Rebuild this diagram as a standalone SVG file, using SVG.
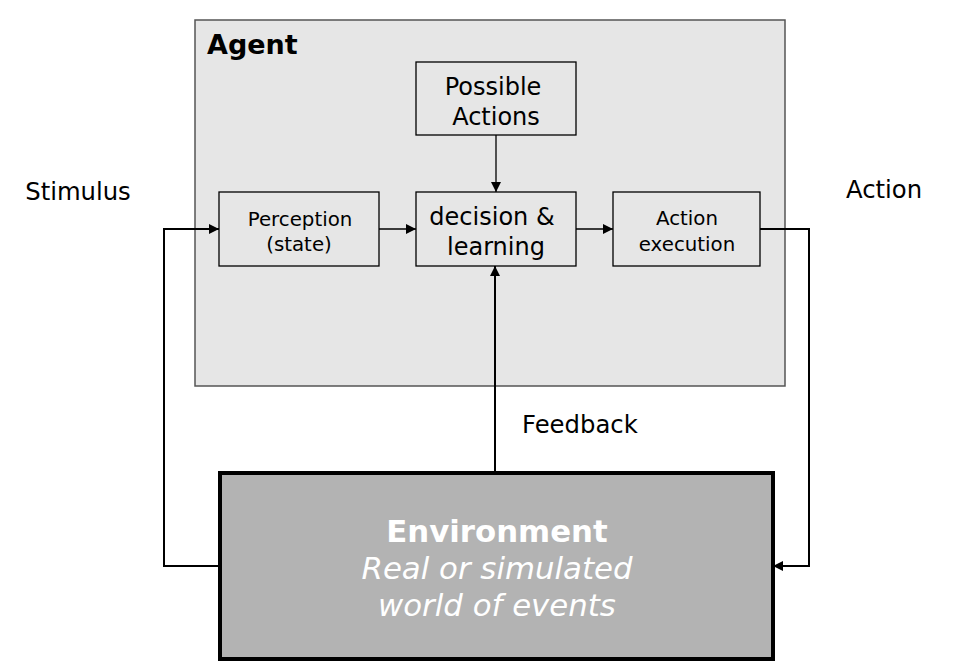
<svg xmlns="http://www.w3.org/2000/svg" width="955" height="670" viewBox="0 0 955 670">
<defs>
<style>
text{font-family:"DejaVu Sans","Liberation Sans",sans-serif;fill:#000}
.box{fill:#e6e6e6;stroke:#000;stroke-width:1.3}
.c{text-anchor:middle}
.con{fill:none;stroke:#000;stroke-width:2}
.thin{fill:none;stroke:#000;stroke-width:1.3}
</style>
<marker id="ah" viewBox="0 0 10 10" refX="10" refY="5" markerWidth="10" markerHeight="10" markerUnits="userSpaceOnUse" orient="auto"><path d="M0,0L10,5L0,10z" fill="#000"/></marker>
</defs>
<rect width="955" height="670" fill="#fff"/>
<g id="agent">
<rect x="195" y="20" width="590" height="366" fill="#e6e6e6" stroke="#555" stroke-width="1.5"/>
<text x="207" y="54" font-size="27" font-weight="bold">Agent</text>
</g>
<g id="possible-actions">
<rect class="box" x="416" y="62" width="160" height="73"/>
<text class="c" x="493" y="95" font-size="24">Possible</text>
<text class="c" x="496" y="125" font-size="24">Actions</text>
</g>
<g id="perception">
<rect class="box" x="219" y="192" width="160" height="74"/>
<text class="c" x="300" y="226" font-size="19.8">Perception</text>
<text class="c" x="299" y="251" font-size="19.8">(state)</text>
</g>
<g id="decision">
<rect class="box" x="416" y="192" width="160" height="74"/>
<text class="c" x="492" y="225" font-size="24">decision &amp;</text>
<text class="c" x="496" y="255" font-size="24">learning</text>
</g>
<g id="action-execution">
<rect class="box" x="613" y="192" width="147" height="74"/>
<text class="c" x="687" y="225" font-size="19.8">Action</text>
<text class="c" x="687" y="251" font-size="19.8">execution</text>
</g>
<g id="environment">
<rect x="220" y="473" width="553" height="186" fill="#b3b3b3" stroke="#000" stroke-width="4"/>
<text class="c" x="497" y="542" font-size="30.8" font-weight="bold" style="fill:#fff">Environment</text>
<text class="c" x="497" y="579" font-size="30.8" font-style="italic" style="fill:#fff">Real or simulated</text>
<text class="c" x="497" y="616" font-size="30.8" font-style="italic" style="fill:#fff">world of events</text>
</g>
<g id="connectors">
<path class="thin" d="M496,135V192" marker-end="url(#ah)"/>
<path class="thin" d="M379,229H416" marker-end="url(#ah)"/>
<path class="thin" d="M576,229H613" marker-end="url(#ah)"/>
<path class="con" d="M218,566H164V229H219" marker-end="url(#ah)"/>
<path class="con" d="M760,229H809V566H773" marker-end="url(#ah)"/>
<path class="con" d="M495,471V266" marker-end="url(#ah)"/>
</g>
<g id="labels">
<text class="c" x="78" y="200" font-size="24.3">Stimulus</text>
<text class="c" x="884" y="198" font-size="24.3">Action</text>
<text x="522" y="433" font-size="24.3">Feedback</text>
</g>
</svg>
